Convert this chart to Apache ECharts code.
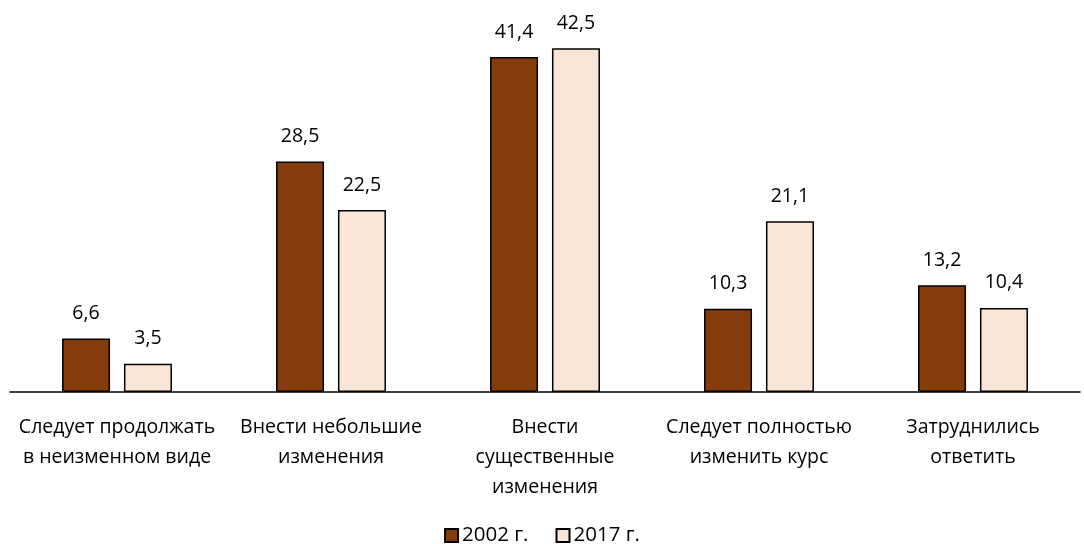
<!DOCTYPE html>
<html lang="ru">
<head>
<meta charset="UTF-8">
<title>Chart</title>
<script src="https://cdn.jsdelivr.net/npm/echarts@6/dist/echarts.min.js"></script>
<style>
  html, body { margin: 0; padding: 0; background: #fff; }
  #chart { width: 1084px; height: 544px; }
</style>
</head>
<body>
<div id="chart"></div>
<script>
  // категории и значения
  var categories = [
    'Следует продолжать\nв неизменном виде',
    'Внести небольшие\nизменения',
    'Внести\nсущественные\nизменения',
    'Следует полностью\nизменить курс',
    'Затруднились\nответить'
  ];
  var values2002 = [6.6, 28.5, 41.4, 10.3, 13.2];
  var values2017 = [3.5, 22.5, 42.5, 21.1, 10.4];
  var seriesNames = ['2002 г.', '2017 г.'];

  var font = 'Open Sans';
  var chart = echarts.init(document.getElementById('chart'));

  function fmt(p) {
    return String(p.value).replace('.', ',');
  }

  chart.setOption({
    animation: false,
    textStyle: { fontFamily: font },
    grid: { left: 10, right: 4, top: 28, bottom: 152 },
    legend: {
      top: 520,
      left: 'center',
      itemWidth: 13,
      itemHeight: 13,
      itemGap: 27,
      icon: 'rect',
      textStyle: { fontSize: 20.5, color: '#000', fontFamily: font, padding: [0, 0, 0, -1] },
      data: seriesNames
    },
    xAxis: {
      type: 'category',
      data: categories,
      axisLine: { lineStyle: { color: '#000', width: 1.5 } },
      axisTick: { show: false },
      axisLabel: {
        fontSize: 19.5,
        color: '#000',
        lineHeight: 30,
        margin: 20,
        interval: 0
      }
    },
    yAxis: {
      type: 'value',
      min: 0,
      max: 45,
      show: false,
      splitLine: { show: false }
    },
    series: [
      {
        name: seriesNames[0],
        type: 'bar',
        data: values2002,
        barWidth: 48,
        barGap: '29%',
        itemStyle: { color: '#843C0C', borderColor: '#000', borderWidth: 1.5 },
        label: { show: true, position: 'top', distance: 15, fontSize: 19.5, color: '#000', formatter: fmt }
      },
      {
        name: seriesNames[1],
        type: 'bar',
        data: values2017,
        barWidth: 48,
        itemStyle: { color: '#FBE5D6', borderColor: '#000', borderWidth: 1.5 },
        label: { show: true, position: 'top', distance: 15, fontSize: 19.5, color: '#000', formatter: fmt }
      }
    ]
  });
</script>
</body>
</html>
